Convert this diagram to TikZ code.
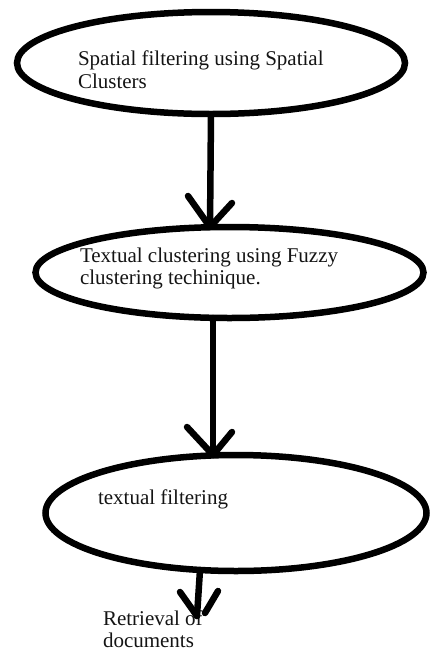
\documentclass[tikz,border=0pt]{standalone}
\usepackage{fontspec}
\setmainfont{Liberation Serif}
\usetikzlibrary{shapes.geometric,calc}
\begin{document}
\begin{tikzpicture}[x=1pt,y=-1pt,
  oval/.style={ellipse, draw=black, line width=6.5pt, inner sep=0pt, outer sep=0pt},
  lbl/.style={anchor=base west, inner sep=0pt, outer sep=0pt, font=\fontsize{21}{23}\selectfont, text=black!92},
  conn/.style={draw=black, line width=6.5pt, line cap=round, line join=round}]
\useasboundingbox (0,0) rectangle (430,657);
\fill[white] (0,0) rectangle (430,657);
% ellipses
\node[oval, minimum width=388pt, minimum height=102pt] (e1) at (211,63) {};
\node[oval, minimum width=388pt, minimum height=91pt] (e2) at (229.5,272.5) {};
\node[oval, minimum width=381pt, minimum height=116pt] (e3) at (236,513) {};
% texts
\node[lbl] (t1a) at (78,65) {Spatial filtering using Spatial};
\node[lbl] (t1b) at (78,88) {Clusters};
\node[lbl] (t2a) at (80,262) {Textual clustering using Fuzzy};
\node[lbl] (t2b) at (80,284) {clustering techinique.};
\node[lbl] (t3) at (98,504) {textual filtering};
\node[lbl] (r1) at (103,625) {Retrieval of};
\node[lbl] (r2) at (103,647) {documents};
% arrow 1
\coordinate (s1) at (e1.south);
\coordinate (a1) at ($(e2.north)+(-19.5,0)$);
\draw[conn] (s1) -- (a1);
\draw[conn] ($(a1)+(-22,-31)$) -- (a1) -- ++(22,-24);
% arrow 2
\coordinate (s2) at ($(e2.south)+(-16.5,0)$);
\coordinate (a2) at ($(e3.north)+(-23,0)$);
\draw[conn] (s2) -- (a2);
\draw[conn] ($(a2)+(-26,-28)$) -- (a2) -- ++(19,-23);
% arrow 3
\coordinate (s3) at ($(e3.south)+(-36,-1)$);
\coordinate (a3) at (197,616);
\draw[conn] (s3) -- (a3);
\draw[conn] ($(a3)+(-17,-24)$) -- (a3);
\draw[conn] ($(a3)+(21,-25)$) -- ($(a3)+(8,-3)$);
\end{tikzpicture}
\end{document}
